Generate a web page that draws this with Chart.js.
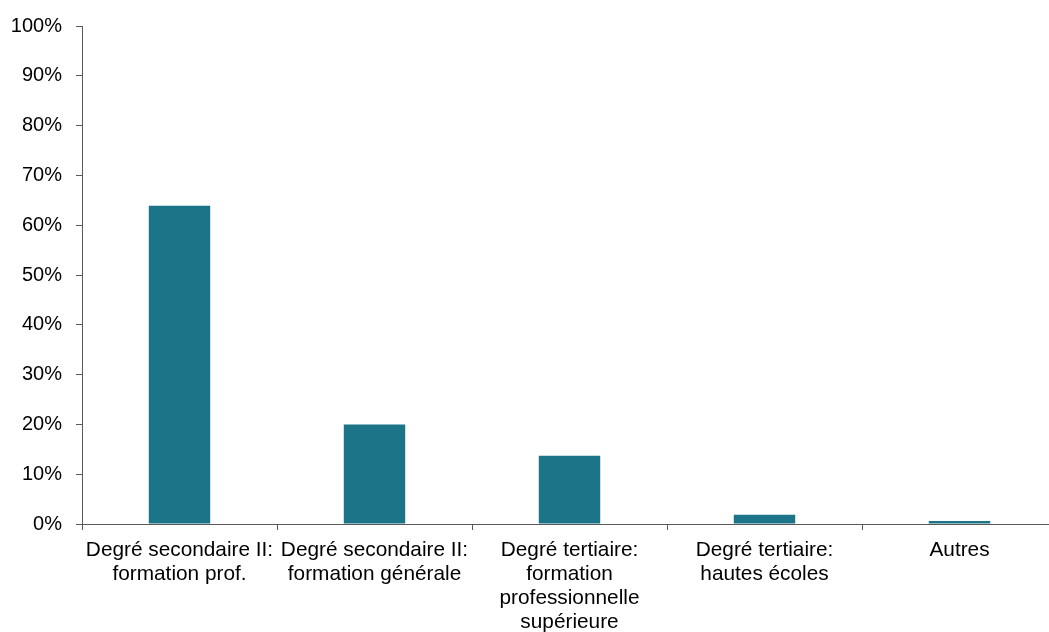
<!DOCTYPE html>
<html>
<head>
<meta charset="utf-8">
<script src="https://cdn.jsdelivr.net/npm/chart.js@4/dist/chart.umd.min.js"></script>
<style>
  html, body { margin: 0; padding: 0; background: #fff; overflow: hidden; }
  canvas { display: block; }
</style>
</head>
<body>
<canvas id="myChart" width="1058" height="632"></canvas>
<script>
const categories = [
    ['Degré secondaire II:', 'formation prof.'],
    ['Degré secondaire II:', 'formation générale'],
    ['Degré tertiaire:', 'formation', 'professionnelle', 'supérieure'],
    ['Degré tertiaire:', 'hautes écoles'],
    'Autres'
];
const shares = [63.9, 20.0, 13.7, 1.85, 0.6];
const yTicks = [0, 10, 20, 30, 40, 50, 60, 70, 80, 90, 100];

const axisColor = '#595959';
const family = 'Liberation Sans, Arial, sans-serif';

const config = {
    type: 'bar',
    data: {
        labels: categories,
        datasets: [{
            data: shares,
            backgroundColor: '#1b7488',
            borderWidth: 0,
            barPercentage: 0.63,
            categoryPercentage: 0.5
        }]
    },
    options: {
        responsive: false,
        animation: false,
        layout: { padding: { top: 23, right: 1, left: 0, bottom: 0 } },
        plugins: {
            legend: { display: false },
            tooltip: { enabled: false }
        },
        scales: {
            x: {
                offset: true,
                grid: {
                    offset: true,
                    drawOnChartArea: false,
                    drawTicks: true,
                    tickLength: 6,
                    color: axisColor
                },
                border: { color: axisColor, width: 1 },
                ticks: {
                    color: '#000',
                    font: { family: family, size: 20.8, lineHeight: 1.155 },
                    padding: 8,
                    maxRotation: 0,
                    autoSkip: false
                },
                afterFit: function (scale) { scale.height = 108; }
            },
            y: {
                min: 0,
                max: 100,
                afterBuildTicks: function (scale) {
                    scale.ticks = yTicks.map(v => ({ value: v }));
                },
                grid: {
                    drawOnChartArea: false,
                    drawTicks: true,
                    tickLength: 6,
                    color: axisColor
                },
                border: { color: axisColor, width: 1 },
                ticks: {
                    color: '#000',
                    font: { family: family, size: 20 },
                    padding: 14,
                    callback: v => v + '%'
                },
                afterFit: function (scale) { scale.width = 82; }
            }
        }
    }
};

new Chart(document.getElementById('myChart'), config);
</script>
</body>
</html>
